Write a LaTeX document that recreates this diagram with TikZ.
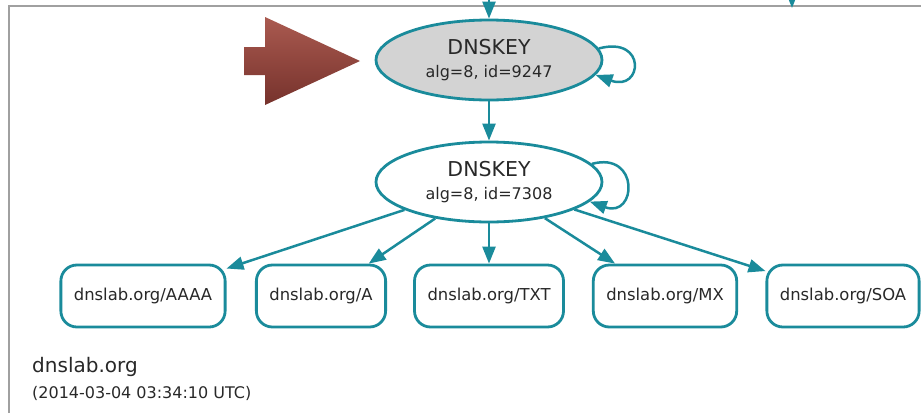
\documentclass[tikz,border=0pt]{standalone}
\usepackage{fontspec}
\setmainfont{DejaVu Sans}
\usetikzlibrary{shapes.geometric,arrows.meta}
\definecolor{dnsteal}{RGB}{26,139,155}
\definecolor{keygray}{RGB}{211,211,211}
\definecolor{txtgray}{RGB}{40,40,40}
\definecolor{framegray}{RGB}{160,160,160}
\definecolor{redtop}{RGB}{170,90,80}
\definecolor{redbot}{RGB}{118,50,44}
\begin{document}
\begin{tikzpicture}[x=1pt,y=1pt,node distance=122pt,
  key/.style={ellipse,draw=dnsteal,line width=2.8pt,minimum width=226pt,minimum height=80pt,inner sep=0pt,align=center,text=txtgray,font=\fontsize{16}{23}\selectfont},
  rrset/.style={rectangle,rounded corners=16pt,draw=dnsteal,line width=2.8pt,minimum height=62pt,inner xsep=13pt,text=txtgray,font=\fontsize{16.4}{20}\selectfont},
  label/.style={anchor=base west,inner sep=0pt,text=txtgray},
  edge/.style={draw=dnsteal,line width=2.5pt,-{Triangle[length=17pt,width=13pt]}}]
\useasboundingbox (0,0) rectangle (921,-413);
\draw [framegray, line width=2.5pt] (9,-413) -- (9,-6) -- (921,-6);
\shade [top color=redtop, bottom color=redbot] (244,-47) -- (265,-47) -- (265,-17) -- (360,-61) -- (265,-105) -- (265,-75) -- (244,-75) -- cycle;
\node [key, fill=keygray] (top) at (489,-60) {{\fontsize{20.5}{23}\selectfont DNSKEY}\\alg=8, id=9247};
\node [key, below of=top] (zsk) {{\fontsize{20.5}{23}\selectfont DNSKEY}\\alg=8, id=7308};
\node [rrset] (aaaa) at (143,-296) {dnslab.org/AAAA};
\node [rrset] (a) at (321,-296) {dnslab.org/A};
\node [rrset] (txt) at (489,-296) {dnslab.org/TXT};
\node [rrset] (mx) at (665,-296) {dnslab.org/MX};
\node [rrset] (soa) at (843,-296) {dnslab.org/SOA};
\node [label, font=\fontsize{20}{24}\selectfont] (zone) at (32,-372) {dnslab.org};
\node [label, font=\fontsize{16}{20}\selectfont] (stamp) at (32,-398) {(2014-03-04 03:34:10 UTC)};
\coordinate (in1) at (489,0);
\coordinate (in2) at (792,0);
\coordinate (in2e) at (792,-8);
\draw [edge] (in1) -- (top);
\draw [edge] (in2) -- (in2e);
\draw [edge] (top) -- (zsk);
\draw [edge] (top.6) .. controls +(15:50) and +(-20:50) .. (top.-8);
\draw [edge] (zsk.10) .. controls +(15:50) and +(-20:50) .. (zsk.-11);
\draw [edge] (zsk) -- (aaaa);
\draw [edge] (zsk) -- (a);
\draw [edge] (zsk) -- (txt);
\draw [edge] (zsk) -- (mx);
\draw [edge] (zsk) -- (soa);
\end{tikzpicture}
\end{document}
